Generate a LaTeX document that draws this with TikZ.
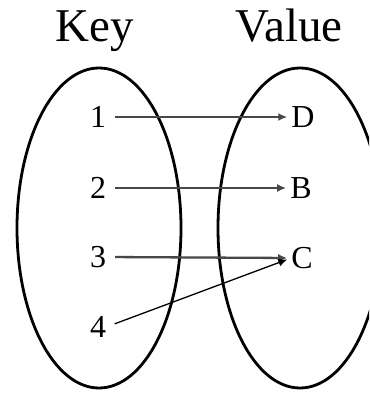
\documentclass[tikz,border=0pt]{standalone}
\usepackage{fontspec}
\setmainfont{Liberation Serif}
\usetikzlibrary{arrows.meta}
\begin{document}
\begin{tikzpicture}[x=1pt,y=-1pt,
  title/.style={font=\fontsize{47}{50}\selectfont, anchor=base, inner sep=0pt},
  item/.style={font=\fontsize{32}{34}\selectfont, inner sep=0pt},
  set/.style={line width=2.8pt, draw=black},
  map/.style={line width=2.3pt, draw=black!72, -{Latex[length=9pt,width=8pt]}, shorten <=9pt, shorten >=4pt},
  mapthin/.style={line width=1.3pt, draw=black, -{Latex[length=9pt,width=8pt]}, shorten <=9pt, shorten >=4pt}]
\useasboundingbox (0,0) rectangle (369,393);
\clip (0,0) rectangle (369,393);
\fill[white] (0,0) rectangle (369,393);
\node[title] (key) at (95,42) {Key};
\node[title] (val) at (289,42) {Value};
\draw[set] (99,228) ellipse [x radius=82, y radius=160];
\draw[set] (300,228) ellipse [x radius=82, y radius=160];
\node[item] (n1) at (98,117) {1};
\node[item] (n2) at (98,188) {2};
\node[item] (n3) at (98,257) {3};
\node[item] (n4) at (98,327) {4};
\node[item] (vD) at (303,117) {D};
\node[item] (vB) at (301,188) {B};
\node[item] (vC) at (302,258) {C};
\draw[map] (n1.east) -- (vD.west);
\draw[map] (n2.east) -- (vB.west);
\draw[map] (n3.east) -- (vC.west);
\draw[mapthin] (n4.east) -- (vC.west);
\end{tikzpicture}
\end{document}
